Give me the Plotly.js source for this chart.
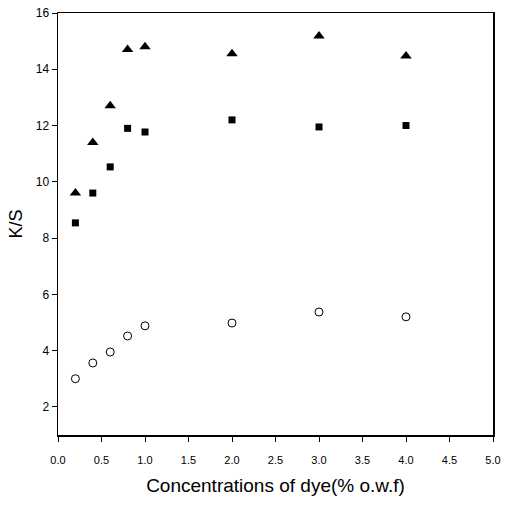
<!DOCTYPE html>
<html>
<head>
<meta charset="utf-8">
<script src="https://cdn.plot.ly/plotly-3.0.1.min.js"></script>
<style>html,body{margin:0;padding:0;background:#fff;}#chart{width:506px;height:506px;}</style>
</head>
<body>
<div id="chart"></div>
<script>
var concentrations = [0.2, 0.4, 0.6, 0.8, 1.0, 2.0, 3.0, 4.0];
var seriesTriangle = [9.6, 11.4, 12.7, 14.7, 14.8, 14.55, 15.18, 14.47];
var seriesSquare = [8.54, 9.6, 10.53, 11.9, 11.77, 12.2, 11.95, 12.0];
var seriesCircle = [3.0, 3.56, 3.95, 4.52, 4.88, 4.98, 5.37, 5.2];
var xTicks = [0, 0.5, 1.0, 1.5, 2.0, 2.5, 3.0, 3.5, 4.0, 4.5, 5.0];
var yTicks = [2, 4, 6, 8, 10, 12, 14, 16];

var traces = [
  {x: concentrations, y: seriesTriangle, mode: 'markers', type: 'scatter',
   marker: {symbol: 'triangle-up', size: 10, color: '#000'}},
  {x: concentrations, y: seriesSquare, mode: 'markers', type: 'scatter',
   marker: {symbol: 'square', size: 7, color: '#000'}},
  {x: concentrations, y: seriesCircle, mode: 'markers', type: 'scatter',
   marker: {symbol: 'circle-open', size: 8, color: '#000', line: {width: 1, color: '#000'}}}
];

var layout = {
  width: 506, height: 506,
  margin: {l: 58, r: 13, t: 13, b: 71},
  showlegend: false,
  paper_bgcolor: '#fff', plot_bgcolor: '#fff',
  font: {family: 'Liberation Sans, Arial, sans-serif', color: '#000'},
  xaxis: {
    range: [0, 5], tickvals: xTicks, tickformat: '.1f',
    showgrid: false, zeroline: false,
    showline: true, linecolor: '#000', linewidth: 1.5, mirror: true,
    ticks: 'outside', ticklen: 5, tickwidth: 1, tickcolor: '#000',
    ticklabelstandoff: 9,
    tickfont: {size: 11, color: '#000'},
    title: {text: 'Concentrations of dye(% o.w.f)', font: {size: 19, color: '#000'}, standoff: 14},
    automargin: false
  },
  yaxis: {
    range: [1, 16], tickvals: yTicks,
    showgrid: false, zeroline: false,
    showline: true, linecolor: '#000', linewidth: 1.5, mirror: true,
    ticks: 'outside', ticklen: 5, tickwidth: 1, tickcolor: '#000',
    tickfont: {size: 12, color: '#000'},
    title: {text: 'K/S', font: {size: 18, color: '#000'}, standoff: 8},
    automargin: false
  }
};

Plotly.newPlot('chart', traces, layout, {displayModeBar: false, staticPlot: true});
</script>
</body>
</html>
